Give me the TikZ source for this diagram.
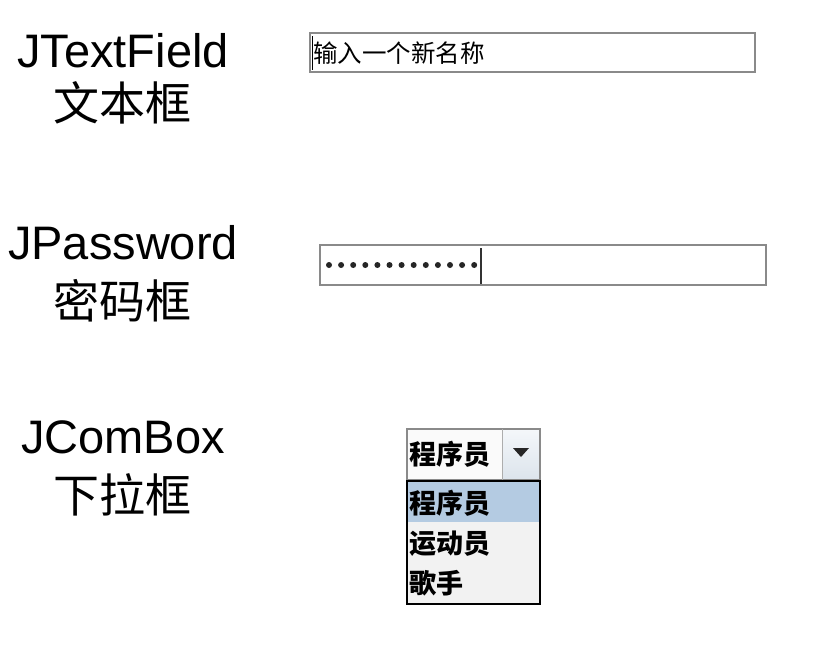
\documentclass[tikz,border=0pt]{standalone}
\usepackage{fontspec}
\setmainfont{Liberation Sans}
\newfontfamily\cjk{Noto Sans CJK SC}
\definecolor{fieldborder}{HTML}{8A8A8A}
\definecolor{selrow}{HTML}{B4CBE2}
\definecolor{listbg}{HTML}{F2F2F2}
\definecolor{btntop}{HTML}{F4F7FA}
\definecolor{btnbot}{HTML}{DCE4EC}
\begin{document}
\begin{tikzpicture}[x=1pt,y=-1pt,
  lbl/.style={inner sep=0pt, font=\fontsize{47}{47}\selectfont},
  cjklbl/.style={inner sep=0pt, font=\cjk\fontsize{46}{46}\selectfont},
  field/.style={draw=fieldborder, line width=1.6pt, fill=white, inner sep=0pt},
  item/.style={inner sep=0pt, anchor=west, font=\cjk\bfseries\fontsize{27}{27}\selectfont}]
\useasboundingbox (0,0) rectangle (817,648);
\fill[white] (0,0) rectangle (817,648);
% labels
\node[lbl, anchor=base] (l1) at (123,67) {JTextField};
\node[cjklbl] (c1) at (122,103) {文本框};
\node[lbl, anchor=base] (l2) at (123,259) {JPassword};
\node[cjklbl] (c2) at (122,301) {密码框};
\node[lbl, anchor=base] (l3) at (123,453) {JComBox};
\node[cjklbl] (c3) at (122,495) {下拉框};
% text field
\draw[field] (310,33) rectangle (755,72);
\node[inner sep=0pt, anchor=west, font=\cjk\fontsize{24.5}{24.5}\selectfont] (tf) at (313,53) {输入一个新名称};
\draw[line width=1.2pt, black] (312.5,36) -- (312.5,70);
% password field
\draw[field] (320,245) rectangle (766,285);
\foreach \i in {0,...,12}{
  \fill[black!85] (329+12.1*\i,265) circle (3pt);
}
\draw[line width=1.4pt, black!80] (481,248) -- (481,284);
% combo box
\shade[top color=btntop, bottom color=btnbot] (502,429) rectangle (540,480);
\fill[white!96!gray] (407,429) rectangle (502,480);
\draw[fieldborder, line width=1.2pt] (407,429) rectangle (540,480);
\draw[fieldborder!70, line width=1pt] (502,429) -- (502,480);
\node[item] (sel) at (409,454) {程序员};
\fill[black!85] (513,448) -- (529,448) -- (521,457) -- cycle;
% list
\fill[listbg] (407,481) rectangle (540,604);
\fill[selrow] (407,482) rectangle (540,522);
\draw[black, line width=1.3pt] (407,481) rectangle (540,604);
\node[item] (i1) at (409,503) {程序员};
\node[item] (i2) at (409,544) {运动员};
\node[item] (i3) at (409,583) {歌手};
\end{tikzpicture}
\end{document}
